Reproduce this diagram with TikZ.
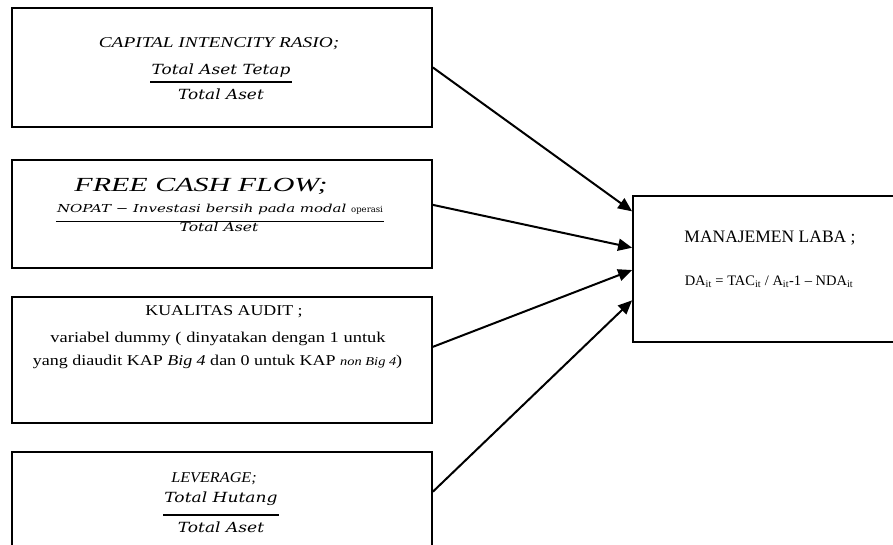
\documentclass[tikz,border=0pt]{standalone}
\usepackage{fontspec}
\setmainfont{Liberation Serif}
\newfontfamily\fracfont{DejaVu Serif}
\usetikzlibrary{arrows.meta,calc,positioning}

\tikzset{
  varbox/.style={draw, line width=1.8pt, minimum width=420pt, inner sep=0pt},
  ttl/.style={anchor=base, inner sep=0pt},
  numer/.style={anchor=base, inner ysep=0pt, inner xsep=1pt},
  fracrule/.style={line width=1.1pt},
  link/.style={line width=2pt, -{Triangle[length=14pt,width=12pt]}}
}

\begin{document}
\begin{tikzpicture}[x=1pt,y=-1pt]
\useasboundingbox (0,0) rectangle (893,545);
\clip (0,0) rectangle (893,545);

% variabel independen
\node[varbox, minimum height=119pt] (cap) at (222,67.5) {};
\node[ttl, font=\fontsize{15}{18}\selectfont\itshape\addfontfeature{FakeStretch=1.29}] (capttl) at (219,48) {CAPITAL INTENCITY RASIO;};
\node[numer, font=\fontsize{14}{17}\fracfont\itshape\addfontfeature{FakeStretch=1.21}] (capnum) at (221,75) {Total Aset Tetap};
\draw[fracrule] ($(capnum.base west)+(0,7)$) -- ($(capnum.base east)+(0,7)$);
\node[ttl, font=\fontsize{14}{17}\fracfont\itshape\addfontfeature{FakeStretch=1.21}] (capden) at (221,100) {Total Aset};

\node[varbox, minimum height=108pt] (fcf) at (222,214) {};
\node[ttl, font=\fontsize{20}{24}\selectfont\itshape\addfontfeature{FakeStretch=1.5}] (fcfttl) at (201,192) {FREE CASH FLOW;};
\node[numer, font=\fontsize{11}{13}\fracfont\itshape\addfontfeature{FakeStretch=1.36}] (fcfnum) at (220,213)
  {NOPAT − Investasi bersih pada modal {\fontsize{8.5}{10}\fracfont\upshape operasi}};
\draw[fracrule] ($(fcfnum.base west)+(0,8.5)$) -- ($(fcfnum.base east)+(0,8.5)$);
\node[ttl, font=\fontsize{12}{14}\fracfont\itshape\addfontfeature{FakeStretch=1.3}] (fcfden) at (219,232) {Total Aset};

\node[varbox, minimum height=126pt] (kap) at (222,360) {};
\node[ttl, font=\fontsize{15}{18}\selectfont\addfontfeature{FakeStretch=1.19}] (kapttl) at (224,315) {KUALITAS AUDIT ;};
\node[ttl, font=\fontsize{15}{18}\selectfont\addfontfeature{FakeStretch=1.23}] (kapline1) at (218,342) {variabel dummy ( dinyatakan dengan 1 untuk};
\node[ttl, font=\fontsize{15}{18}\selectfont\addfontfeature{FakeStretch=1.2}] (kapline2) at (217.5,365.5)
  {yang diaudit KAP \textit{Big 4} dan 0 untuk KAP {\fontsize{12}{15}\selectfont\itshape non Big 4})};

\node[varbox, minimum height=120pt] (lev) at (222,512) {};
\node[ttl, font=\fontsize{15}{18}\selectfont\itshape\addfontfeature{FakeStretch=1.08}] (levttl) at (214,482) {LEVERAGE;};
\node[numer, font=\fontsize{14}{17}\fracfont\itshape\addfontfeature{FakeStretch=1.22}] (levnum) at (221,502) {Total Hutang};
\draw[fracrule] ($(levnum.base west)+(0,13)$) -- ($(levnum.base east)+(0,13)$);
\node[ttl, font=\fontsize{14}{17}\fracfont\itshape\addfontfeature{FakeStretch=1.22}] (levden) at (221,532) {Total Aset};

% variabel dependen
\node[draw, line width=1.8pt, minimum width=300pt, minimum height=146pt, inner sep=0pt] (laba) at (783,269) {};
\node[ttl, font=\fontsize{17.5}{21}\selectfont] (labattl) at (770,243) {MANAJEMEN LABA ;};
\node[ttl, font=\fontsize{14.5}{17}\selectfont] (labarumus) at (769,285)
  {DA\textsubscript{it} = TAC\textsubscript{it} / A\textsubscript{it}-1 – NDA\textsubscript{it}};

% panah
\draw[link] (cap.east) -- ($(laba.north west)!0.11!(laba.south west)$);
\draw[link] ($(fcf.north east)!0.417!(fcf.south east)$) -- ($(laba.north west)!0.356!(laba.south west)$);
\draw[link] ($(kap.north east)!0.397!(kap.south east)$) -- ($(laba.north west)!0.507!(laba.south west)$);
\draw[link] ($(lev.north east)!0.333!(lev.south east)$) -- ($(laba.north west)!0.712!(laba.south west)$);
\end{tikzpicture}
\end{document}
